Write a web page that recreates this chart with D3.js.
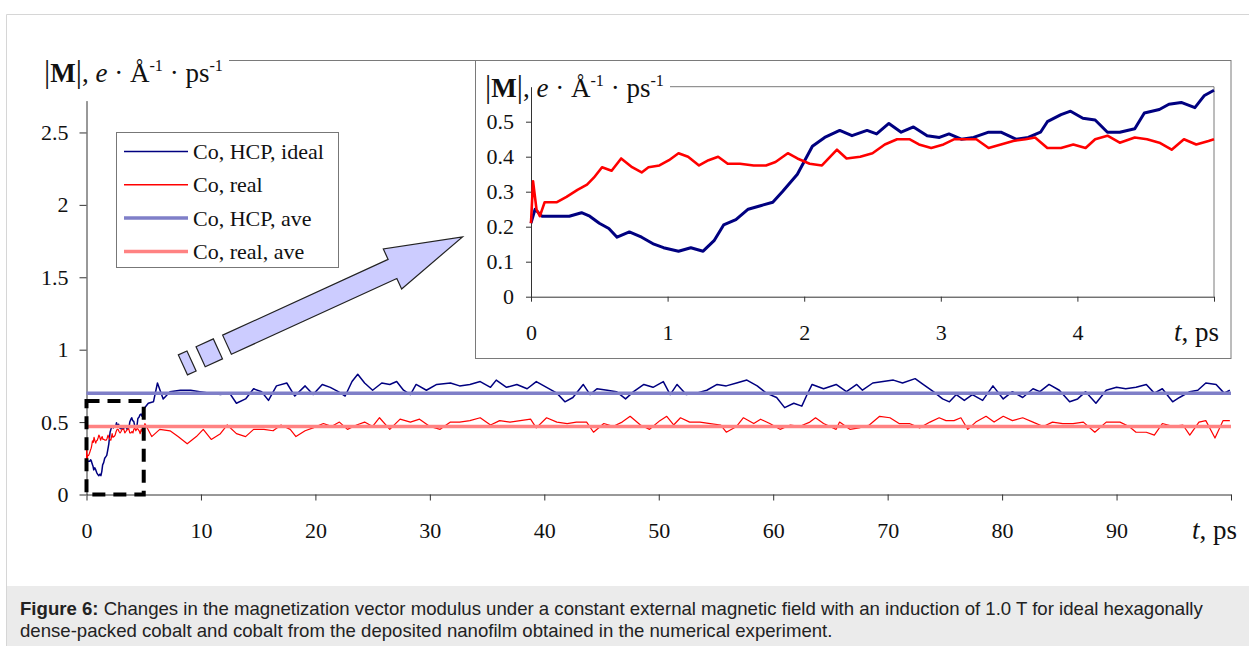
<!DOCTYPE html>
<html>
<head>
<meta charset="utf-8">
<script src="https://cdn.jsdelivr.net/npm/d3@7"></script>
<style>
  body { margin: 0; background: #fff; }
  svg { display: block; }
</style>
</head>
<body>
<svg id="chart" width="1249" height="646"></svg>
<script>
// ---- data ----
// first 5 ps (shown in the inset and at the start of the main plot), [t ps, |M|]
const hcpEarly = [[0,0.21],[0.03,0.25],[0.08,0.23],[0.19,0.23],[0.28,0.23],[0.37,0.24],[0.43,0.23],[0.5,0.21],
  [0.57,0.195],[0.63,0.17],[0.72,0.185],[0.81,0.17],[0.9,0.15],[0.97,0.14],[1.08,0.13],[1.17,0.14],[1.26,0.13],
  [1.34,0.16],[1.41,0.205],[1.5,0.22],[1.59,0.25],[1.68,0.26],[1.77,0.27],[1.84,0.3],[1.95,0.35],[2.06,0.43],
  [2.15,0.455],[2.26,0.475],[2.35,0.46],[2.46,0.475],[2.53,0.465],[2.62,0.495],[2.71,0.47],[2.8,0.485],[2.9,0.46],
  [2.99,0.455],[3.06,0.465],[3.15,0.45],[3.24,0.455],[3.35,0.47],[3.44,0.47],[3.55,0.45],[3.64,0.455],[3.73,0.47],
  [3.78,0.5],[3.88,0.52],[3.95,0.53],[4.04,0.51],[4.13,0.505],[4.22,0.47],[4.31,0.47],[4.42,0.48],[4.49,0.525],
  [4.6,0.535],[4.67,0.55],[4.76,0.555],[4.86,0.54],[4.93,0.575],[5,0.59]];
const realEarly = [[0,0.21],[0.015,0.33],[0.04,0.25],[0.065,0.23],[0.1,0.27],[0.19,0.27],[0.26,0.285],[0.34,0.305],
  [0.41,0.32],[0.46,0.34],[0.52,0.37],[0.59,0.36],[0.66,0.395],[0.74,0.37],[0.81,0.355],[0.86,0.37],[0.94,0.375],
  [1.01,0.39],[1.08,0.41],[1.15,0.4],[1.23,0.375],[1.3,0.39],[1.37,0.4],[1.44,0.38],[1.53,0.38],[1.63,0.375],
  [1.72,0.375],[1.79,0.385],[1.88,0.41],[1.95,0.395],[2.04,0.38],[2.13,0.375],[2.24,0.42],[2.31,0.395],[2.41,0.4],
  [2.5,0.41],[2.59,0.435],[2.68,0.45],[2.77,0.45],[2.84,0.435],[2.93,0.425],[3.02,0.435],[3.1,0.45],[3.19,0.45],
  [3.26,0.45],[3.35,0.425],[3.44,0.435],[3.53,0.445],[3.62,0.45],[3.69,0.455],[3.78,0.425],[3.88,0.425],
  [3.97,0.435],[4.06,0.425],[4.13,0.45],[4.22,0.46],[4.31,0.44],[4.42,0.455],[4.51,0.45],[4.6,0.44],[4.69,0.42],
  [4.78,0.45],[4.87,0.435],[4.96,0.445],[5,0.45]];

// rest of the run, 5..100 ps
const hcpLate = [[5.4,0.63],[5.85,0.64],[6.2,0.77],[6.7,0.66],[7.3,0.71],[8.2,0.72],[9.1,0.72],[9.9,0.71],[10.8,0.7],
  [11.7,0.69],[12.5,0.7],[13.1,0.63],[13.9,0.66],[14.6,0.73],[15.3,0.71],[15.9,0.65],[16.6,0.75],[17.5,0.77],
  [18.2,0.68],[19.1,0.75],[19.8,0.69],[20.6,0.76],[21.3,0.74],[22,0.71],[22.6,0.68],[23.2,0.78],[23.7,0.83],
  [24.3,0.77],[25,0.72],[25.8,0.77],[26.5,0.76],[27.1,0.78],[27.7,0.72],[28.3,0.69],[28.8,0.76],[29.7,0.72],
  [30.6,0.76],[31.8,0.77],[32.6,0.75],[33.5,0.76],[34.4,0.78],[35.3,0.74],[35.8,0.79],[36.7,0.74],[37.6,0.76],
  [38.5,0.73],[39.3,0.78],[40.2,0.74],[41.1,0.7],[41.8,0.64],[42.5,0.67],[43.4,0.76],[44,0.69],[44.6,0.73],
  [45.5,0.72],[46.3,0.71],[47.1,0.66],[47.8,0.71],[48.7,0.76],[49.5,0.74],[50.4,0.78],[51,0.69],[51.6,0.76],
  [52.4,0.69],[53.3,0.7],[54.2,0.72],[55.1,0.76],[55.9,0.75],[56.8,0.77],[57.7,0.79],[58.6,0.75],[59.4,0.7],
  [60.3,0.67],[61,0.6],[61.8,0.63],[62.5,0.61],[62.9,0.68],[63.4,0.76],[64.4,0.73],[65.5,0.76],[66.4,0.71],
  [67.3,0.76],[67.8,0.72],[68.7,0.77],[69.6,0.78],[70.5,0.79],[71.3,0.77],[72.4,0.8],[73.1,0.76],[74,0.71],
  [74.8,0.66],[75.4,0.64],[76,0.69],[76.7,0.65],[77.4,0.69],[78.3,0.65],[79.2,0.75],[80.1,0.66],[80.9,0.71],
  [81.8,0.67],[82.7,0.73],[83.3,0.71],[84.1,0.76],[85,0.72],[85.9,0.64],[86.6,0.66],[87.3,0.71],[88.2,0.63],
  [89.1,0.72],[90,0.74],[90.8,0.73],[91.7,0.74],[92.6,0.76],[93.3,0.7],[94,0.73],[94.9,0.64],[95.5,0.67],
  [96.4,0.71],[97.1,0.72],[97.8,0.77],[98.7,0.76],[99.4,0.7],[99.9,0.72]];
const realLate = [[5.1,0.49],[5.7,0.4],[6.4,0.45],[7.3,0.44],[8,0.4],[8.8,0.35],[9.6,0.4],[10.2,0.45],[10.9,0.38],
  [11.7,0.42],[12.3,0.48],[13.1,0.42],[13.9,0.4],[14.6,0.45],[15.5,0.45],[16.3,0.44],[17,0.48],[17.8,0.45],
  [18.3,0.4],[19.1,0.44],[19.8,0.46],[20.7,0.49],[21.4,0.47],[22.1,0.5],[22.8,0.45],[23.6,0.48],[24.3,0.5],
  [25,0.47],[25.6,0.53],[26.5,0.45],[27.4,0.52],[28.3,0.5],[29.1,0.52],[30,0.47],[30.9,0.45],[31.8,0.5],
  [32.6,0.5],[33.5,0.51],[34.4,0.53],[35.3,0.48],[36.1,0.51],[37,0.5],[37.9,0.51],[38.8,0.52],[39.3,0.46],
  [40.2,0.53],[41.1,0.5],[42,0.49],[42.8,0.5],[43.7,0.5],[44.3,0.43],[45.2,0.49],[46,0.47],[46.8,0.5],[47.5,0.54],
  [48.4,0.48],[49.2,0.45],[50.1,0.51],[50.7,0.54],[51.3,0.48],[51.9,0.53],[52.7,0.5],[53.6,0.5],[54.5,0.49],
  [55.4,0.48],[55.9,0.43],[56.8,0.47],[57.4,0.53],[58.3,0.49],[58.9,0.52],[59.7,0.49],[60.6,0.45],[61.5,0.48],
  [62.3,0.47],[63.2,0.5],[63.7,0.53],[64.4,0.49],[65.5,0.45],[65.8,0.5],[66.7,0.45],[67.5,0.46],[68.4,0.48],
  [69.3,0.54],[70.2,0.53],[71,0.49],[71.9,0.49],[72.8,0.46],[73.7,0.5],[74.5,0.53],[75.1,0.51],[75.8,0.51],
  [76.4,0.53],[77,0.45],[77.7,0.5],[78.6,0.54],[79.3,0.5],[80.1,0.54],[80.9,0.51],[81.8,0.53],[82.7,0.5],
  [83.6,0.47],[84.4,0.5],[85.3,0.49],[86.2,0.49],[87.1,0.5],[88.1,0.43],[89.1,0.5],[90.3,0.5],[91.1,0.47],
  [91.7,0.43],[92.6,0.43],[93.3,0.41],[94,0.49],[94.9,0.47],[95.8,0.48],[96.4,0.41],[97.2,0.5],[97.8,0.51],
  [98.6,0.39],[99.3,0.51],[99.9,0.51]];

const averages = [0.70, 0.47];          // Co HCP ave, Co real ave
const seriesNames = ["Co, HCP, ideal", "Co, real", "Co, HCP, ave", "Co, real, ave"];
const seriesColors = ["#000080", "#ff0000", "#7f7fc8", "#ff8282"];

const mainXTicks = [0, 10, 20, 30, 40, 50, 60, 70, 80, 90, 100];
const mainYTicks = [0, 0.5, 1, 1.5, 2, 2.5];
const insetXTicks = [0, 1, 2, 3, 4, 5];
const insetYTicks = [0, 0.1, 0.2, 0.3, 0.4, 0.5];

const captionBold = "Figure 6:";
const captionLines = [
  " Changes in the magnetization vector modulus under a constant external magnetic field with an induction of 1.0 T for ideal hexagonally",
  "dense-packed cobalt and cobalt from the deposited nanofilm obtained in the numerical experiment."
];

const hcpAll = hcpEarly.concat(hcpLate);
const realAll = realEarly.concat(realLate);

const serif = "'Liberation Serif','Times New Roman',serif";
const svg = d3.select("#chart");

// page frame + caption band
svg.append("rect").attr("x", 6).attr("y", 586).attr("width", 1243).attr("height", 60).attr("fill", "#ebebeb");
svg.append("path").attr("d", "M6.5,646V14.5H1249").attr("fill", "none").attr("stroke", "#d6d6d6");

// ---- main chart ----
const x = d3.scaleLinear().domain([0, 100]).range([86.5, 1231]);
const y = d3.scaleLinear().domain([0, 2.72]).range([494.5, 100.6]);

// top frame line (runs into inset box)
svg.append("line").attr("x1", 229).attr("x2", 1231).attr("y1", 60.5).attr("y2", 60.5).attr("stroke", "#7a7a7a");

function styleAxis(g) {
  g.attr("font-family", serif).attr("font-size", 22).attr("color", "#333");
  g.selectAll("text").attr("fill", "#111");
}
const plainNum = d => String(d);

const xAxis = svg.append("g").attr("transform", `translate(0,${y(0)})`)
  .call(d3.axisBottom(x).tickValues(mainXTicks).tickSize(6).tickSizeOuter(0)
    .tickFormat(d => d === 100 ? "" : plainNum(d)));
styleAxis(xAxis);
xAxis.selectAll("text").attr("dy", null).attr("y", 43);

const yAxis = svg.append("g").attr("transform", `translate(${x(0)},0)`)
  .call(d3.axisLeft(y).tickValues(mainYTicks).tickSize(7).tickSizeOuter(0).tickFormat(plainNum));
styleAxis(yAxis);
yAxis.selectAll("text").attr("x", -18);

const mainLine = d3.line().x(d => x(d[0])).y(d => y(d[1]));

svg.append("path").datum(hcpAll).attr("d", mainLine)
  .attr("fill", "none").attr("stroke", seriesColors[0]).attr("stroke-width", 1.5).attr("stroke-linejoin", "round");
svg.append("path").datum(realAll).attr("d", mainLine)
  .attr("fill", "none").attr("stroke", seriesColors[1]).attr("stroke-width", 1.2).attr("stroke-linejoin", "round");

averages.forEach((a, i) => {
  svg.append("line").attr("x1", x(0)).attr("x2", x(100)).attr("y1", y(a)).attr("y2", y(a))
    .attr("stroke", seriesColors[i + 2]).attr("stroke-width", 3.5);
});

// dashed zoom box around the first 5 ps
svg.append("rect").attr("x", x(0)).attr("y", y(0.645)).attr("width", x(5) - x(0)).attr("height", y(0) - y(0.645))
  .attr("fill", "none").attr("stroke", "#000").attr("stroke-width", 4).attr("stroke-dasharray", "13,8");

// axis titles
function drawTitle(xPos, yPos, size) {
  const t = svg.append("text").attr("x", xPos).attr("y", yPos)
    .attr("font-family", serif).attr("font-size", size).attr("fill", "#111");
  t.append("tspan").attr("font-size", size * 1.15).text("|");
  t.append("tspan").attr("font-weight", "bold").text("M");
  t.append("tspan").attr("font-size", size * 1.15).text("|");
  t.append("tspan").text(", ");
  t.append("tspan").attr("font-style", "italic").text("e");
  t.append("tspan").text(" · Å");
  t.append("tspan").attr("font-size", size * 0.6).attr("dy", -size * 0.42).text("-1");
  t.append("tspan").attr("dy", size * 0.42).text(" · ps");
  t.append("tspan").attr("font-size", size * 0.6).attr("dy", -size * 0.42).text("-1");
  return t;
}
function drawTimeLabel(xPos, yPos) {
  const t = svg.append("text").attr("x", xPos).attr("y", yPos)
    .attr("font-family", serif).attr("font-size", 27).attr("fill", "#111");
  t.append("tspan").attr("font-style", "italic").text("t");
  t.append("tspan").text(", ps");
}
drawTitle(44, 82, 27);
drawTimeLabel(1192, 539);

// legend
const legend = svg.append("g");
legend.append("rect").attr("x", 116.5).attr("y", 132.5).attr("width", 222).attr("height", 135)
  .attr("fill", "#fff").attr("stroke", "#777");
seriesNames.forEach((name, i) => {
  const ly = 151.5 + i * 33.3;
  legend.append("line").attr("x1", 124).attr("x2", 188).attr("y1", ly).attr("y2", ly)
    .attr("stroke", seriesColors[i]).attr("stroke-width", i < 2 ? 1.5 : 3.5);
  legend.append("text").attr("x", 193).attr("y", ly + 7.5).attr("font-family", serif).attr("font-size", 22)
    .attr("fill", "#111").text(name);
});

// block arrow pointing to the inset
const arrow = svg.append("g").attr("transform", "translate(227,344.7) rotate(-24.6)");
const arrowShape = [[[0,-10.5],[182,-10.5],[182,-22],[259,0],[182,22],[182,10.5],[0,10.5]],
  [[-29,-11],[-10,-11],[-10,11],[-29,11]],
  [[-48.5,-11],[-39,-11],[-39,11],[-48.5,11]]];
arrowShape.forEach(p => {
  arrow.append("path").attr("d", d3.line()(p) + "Z")
    .attr("fill", "#ccccff").attr("stroke", "#222").attr("stroke-width", 1.2).attr("stroke-linejoin", "miter");
});

// ---- inset ----
svg.append("rect").attr("x", 475.5).attr("y", 60.5).attr("width", 755.5).attr("height", 298)
  .attr("fill", "#fff").attr("stroke", "#7a7a7a");

const ix = d3.scaleLinear().domain([0, 5]).range([531, 1214]);
const iy = d3.scaleLinear().domain([0, 0.6]).range([296.7, 86.7]);

svg.append("path").attr("d", `M670,${iy(0.6)}H${ix(5)}V${iy(0)}`).attr("fill", "none").attr("stroke", "#7a7a7a");

const ixAxis = svg.append("g").attr("transform", `translate(0,${iy(0)})`)
  .call(d3.axisBottom(ix).tickValues(insetXTicks).tickSize(5).tickSizeOuter(0)
    .tickFormat(d => d === 5 ? "" : plainNum(d)));
styleAxis(ixAxis);
ixAxis.selectAll("text").attr("dy", null).attr("y", 43);

const iyAxis = svg.append("g").attr("transform", `translate(${ix(0)},0)`)
  .call(d3.axisLeft(iy).tickValues(insetYTicks).tickSize(5).tickSizeOuter(0).tickFormat(plainNum));
styleAxis(iyAxis);
iyAxis.selectAll("text").attr("x", -17);

const insetLine = d3.line().x(d => ix(d[0])).y(d => iy(d[1]));
svg.append("path").datum(hcpEarly).attr("d", insetLine)
  .attr("fill", "none").attr("stroke", seriesColors[0]).attr("stroke-width", 3).attr("stroke-linejoin", "round");
svg.append("path").datum(realEarly).attr("d", insetLine)
  .attr("fill", "none").attr("stroke", seriesColors[1]).attr("stroke-width", 2.6).attr("stroke-linejoin", "round");

drawTitle(485, 97, 27);
drawTimeLabel(1174, 341);

// ---- caption ----
const cap = svg.append("g").attr("font-family", "'Liberation Sans',Arial,sans-serif").attr("fill", "#222");
const c1 = cap.append("text").attr("x", 20).attr("y", 615).attr("font-size", 18.6);
c1.append("tspan").attr("font-weight", "bold").text(captionBold);
c1.append("tspan").text(captionLines[0]);
cap.append("text").attr("x", 20).attr("y", 637).attr("font-size", 18.6).text(captionLines[1]);
</script>
</body>
</html>
